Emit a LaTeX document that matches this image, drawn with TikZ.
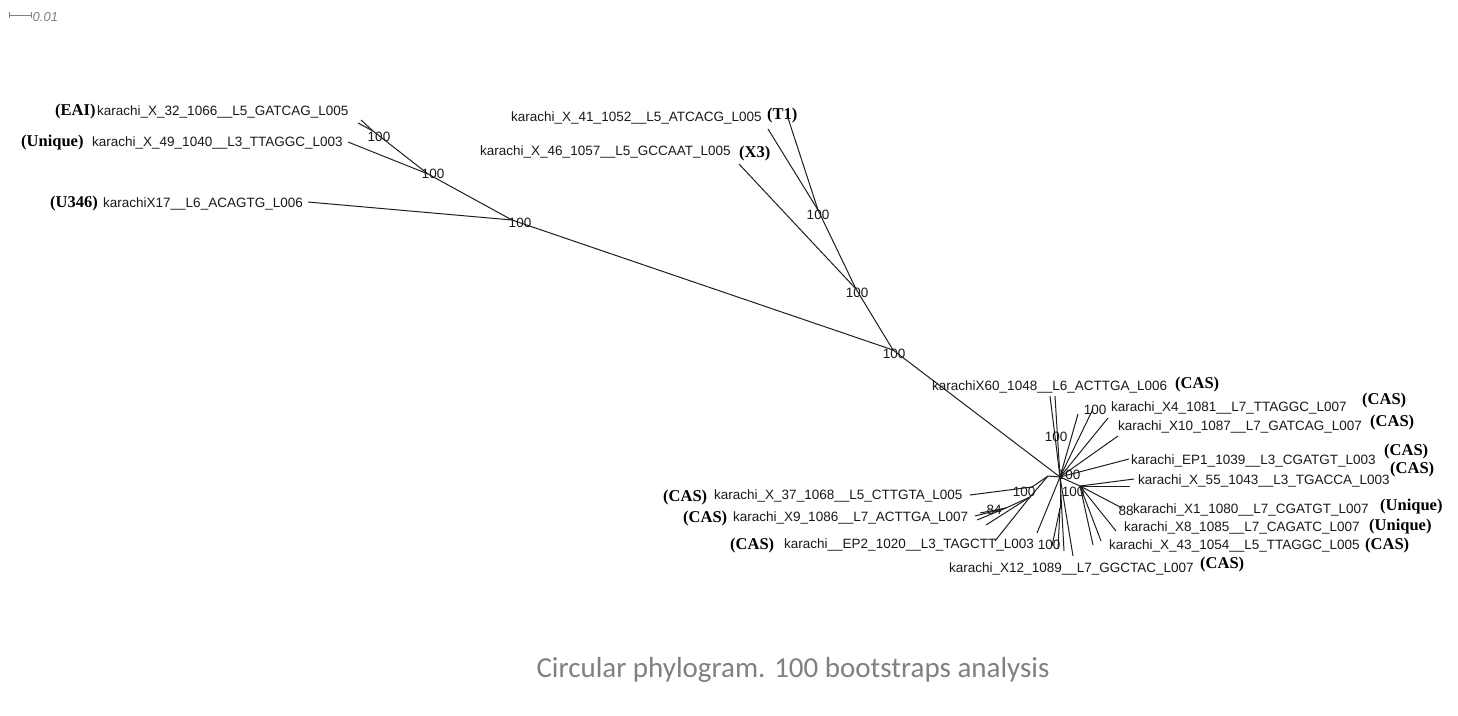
\documentclass[tikz,border=0pt]{standalone}
\usepackage{fontspec}
\usepackage{xcolor}
\usepackage{tikz}
\usetikzlibrary{positioning}
\usetikzlibrary{calc}

\newfontfamily\arialfam{Liberation Sans}
\newfontfamily\timesfam{Liberation Serif}
\newfontfamily\calfam{Carlito}
\newcommand{\taxfont}{\arialfam\fontsize{13.5}{16}\selectfont}
\newcommand{\cladefont}{\timesfam\bfseries\fontsize{16.5}{19}\selectfont}
\newcommand{\capfont}{\calfam\fontsize{29}{34}\selectfont}
\definecolor{capgray}{RGB}{128,128,128}
\definecolor{branchcol}{RGB}{30,30,30}

\tikzset{
  branch/.style={line width=1pt, branchcol},
  taxon/.style={font=\taxfont, inner sep=0pt, anchor=west, text=black!90},
  clade/.style={font=\cladefont, inner sep=0pt, anchor=west, text=black},
  boot/.style={font=\taxfont, inner sep=0pt, text=black!90},
}

\begin{document}
\begin{tikzpicture}[x=1pt,y=-1pt]
\useasboundingbox (0,0) rectangle (1458,715);

% scale bar
\coordinate (bar0) at (9,15);
\coordinate (bar1) at (31,15);
\draw[capgray, line width=0.8pt] (bar0) -- (bar1);
\draw[capgray, line width=0.8pt] ($(bar0)+(0,-3)$) -- ($(bar0)+(0,3)$);
\draw[capgray, line width=0.8pt] ($(bar1)+(0,-3)$) -- ($(bar1)+(0,3)$);
\node (barlab) [right=1.5pt of bar1, inner sep=0pt, font=\arialfam\itshape\fontsize{13}{15}\selectfont, text=capgray, yshift=-2pt] {0.01};

% internal nodes
\coordinate (hub) at (1060,477);
\coordinate (n1) at (893,350);
\coordinate (n2) at (856,289);
\coordinate (n4) at (818,210);
\coordinate (n3) at (512,220);
\coordinate (n5) at (428,174);
\coordinate (n6) at (373,131);
\coordinate (nD) at (1080,486);
\coordinate (nE) at (1060,508);
\coordinate (nF) at (1048,476);
\coordinate (nG) at (1032,487);
\coordinate (nH) at (1030,497);
\coordinate (nI) at (1006,508);

% leaf ends
\coordinate (eEAIa) at (358,123);
\coordinate (eEAIb) at (361,120);
\coordinate (eUniq) at (348,142);
\coordinate (eU346) at (308,202);
\coordinate (eT1a) at (768,129);
\coordinate (eT1b) at (788,118);
\coordinate (eX3) at (739,164);
\coordinate (e60a) at (1050,396);
\coordinate (e60b) at (1055,396);
\coordinate (e4a) at (1078,414);
\coordinate (e4b) at (1093,409);
\coordinate (e10a) at (1108,418);
\coordinate (e10b) at (1118,436);
\coordinate (eEP1) at (1129,459);
\coordinate (e55a) at (1134,479);
\coordinate (e55b) at (1130,486);
\coordinate (eX1) at (1122,508);
\coordinate (eX8) at (1116,531);
\coordinate (e43a) at (1101,541);
\coordinate (e43b) at (1093,545);
\coordinate (e12a) at (1073,556);
\coordinate (e12b) at (1064,551);
\coordinate (e12c) at (1058,549);
\coordinate (e12d) at (1052,546);
\coordinate (eDL) at (1037,533);
\coordinate (eX37) at (970,495);
\coordinate (eX9a) at (975,516);
\coordinate (eX9b) at (977,520);
\coordinate (eX9c) at (980,513);
\coordinate (eX9d) at (986,525);
\coordinate (eEP2) at (995,541);

% branches
\draw[branch] (hub) -- (n1);
\draw[branch] (n1) -- (n2);
\draw[branch] (n2) -- (n4);
\draw[branch] (n4) -- (eT1a);
\draw[branch] (n4) -- (eT1b);
\draw[branch] (n2) -- (eX3);
\draw[branch] (n1) -- (n3);
\draw[branch] (n3) -- (eU346);
\draw[branch] (n3) -- (n5);
\draw[branch] (n5) -- (eUniq);
\draw[branch] (n5) -- (n6);
\draw[branch] (n6) -- (eEAIa);
\draw[branch] (n6) -- (eEAIb);

\foreach \e in {e60a,e60b,e4a,e4b,e10a,e10b,eEP1,e12a,e12b,eDL}
  \draw[branch] (hub) -- (\e);
\draw[branch] (hub) -- (nD);
\foreach \e in {e55a,e55b,eX1,eX8,e43a,e43b}
  \draw[branch] (nD) -- (\e);
\draw[branch] (hub) -- (nE);
\draw[branch] (nE) -- (e12c);
\draw[branch] (nE) -- (e12d);
\draw[branch] (hub) -- (nF);
\draw[branch] (nF) -- (nG);
\draw[branch] (nG) -- (eX37);
\draw[branch] (nF) -- (nH);
\draw[branch] (nH) -- (eEP2);
\draw[branch] (nH) -- (eX9d);
\draw[branch] (nH) -- (nI);
\foreach \e in {eX9a,eX9b,eX9c}
  \draw[branch] (nI) -- (\e);

% bootstrap values
\node[boot] (b1) at (520,223) {100};
\node[boot] (b2) at (433,174) {100};
\node[boot] (b3) at (379,137) {100};
\node[boot] (b4) at (818,215) {100};
\node[boot] (b5) at (857,293) {100};
\node[boot] (b6) at (894,354) {100};
\node[boot] (b7) at (1056,437) {100};
\node[boot] (b8) at (1095,410) {100};
\node[boot] (b9) at (1069,475) {100};
\node[boot] (b10) at (1073,492) {100};
\node[boot] (b11) at (1024,492) {100};
\node[boot] (b12) at (1049,545) {100};
\node[boot] (b13) at (994,510) {84};
\node[boot] (b14) at (1126,511) {88};

% taxa
\node[clade] (cEAI) at (55,112) {(EAI)};
\node[taxon] (tEAI) at (97,112) {karachi\_X\_32\_1066\_\_L5\_GATCAG\_L005};
\node[clade] (cUniq) at (21,143) {(Unique)};
\node[taxon] (tUniq) at (92,143) {karachi\_X\_49\_1040\_\_L3\_TTAGGC\_L003};
\node[clade] (cU346) at (50,204) {(U346)};
\node[taxon] (tU346) at (103,204) {karachiX17\_\_L6\_ACAGTG\_L006};
\node[taxon] (tT1) at (511,118) {karachi\_X\_41\_1052\_\_L5\_ATCACG\_L005};
\node[clade] (cT1) at (767,116) {(T1)};
\node[taxon] (tX3) at (480,152) {karachi\_X\_46\_1057\_\_L5\_GCCAAT\_L005};
\node[clade] (cX3) at (739,154) {(X3)};
\node[taxon] (t60) at (932,387) {karachiX60\_1048\_\_L6\_ACTTGA\_L006};
\node[clade] (c60) at (1175,385) {(CAS)};
\node[taxon] (t4) at (1111,408) {karachi\_X4\_1081\_\_L7\_TTAGGC\_L007};
\node[clade] (c4) at (1362,401) {(CAS)};
\node[taxon] (t10) at (1118,427) {karachi\_X10\_1087\_\_L7\_GATCAG\_L007};
\node[clade] (c10) at (1370,423) {(CAS)};
\node[taxon] (tEP1) at (1131,461) {karachi\_EP1\_1039\_\_L3\_CGATGT\_L003};
\node[clade] (cEP1) at (1384,452) {(CAS)};
\node[taxon] (t55) at (1138,481) {karachi\_X\_55\_1043\_\_L3\_TGACCA\_L003};
\node[clade] (c55) at (1390,470) {(CAS)};
\node[taxon] (tX1) at (1133,510) {karachi\_X1\_1080\_\_L7\_CGATGT\_L007};
\node[clade] (cX1) at (1380,507) {(Unique)};
\node[taxon] (tX8) at (1124,528) {karachi\_X8\_1085\_\_L7\_CAGATC\_L007};
\node[clade] (cX8) at (1369,527) {(Unique)};
\node[taxon] (t43) at (1109,546) {karachi\_X\_43\_1054\_\_L5\_TTAGGC\_L005};
\node[clade] (c43) at (1365,546) {(CAS)};
\node[taxon] (t12) at (949,569) {karachi\_X12\_1089\_\_L7\_GGCTAC\_L007};
\node[clade] (c12) at (1200,565) {(CAS)};
\node[clade] (c37) at (663,498) {(CAS)};
\node[taxon] (t37) at (714,496) {karachi\_X\_37\_1068\_\_L5\_CTTGTA\_L005};
\node[clade] (cX9) at (683,519) {(CAS)};
\node[taxon] (tX9) at (733,518) {karachi\_X9\_1086\_\_L7\_ACTTGA\_L007};
\node[clade] (cEP2) at (730,546) {(CAS)};
\node[taxon] (tEP2) at (784,545) {karachi\_\_EP2\_1020\_\_L3\_TAGCTT\_L003};

% caption
\node[font=\capfont, text=capgray, inner sep=0pt] (caption) at (793,670) {Circular phylogram. 100 bootstraps analysis};
\end{tikzpicture}
\end{document}
